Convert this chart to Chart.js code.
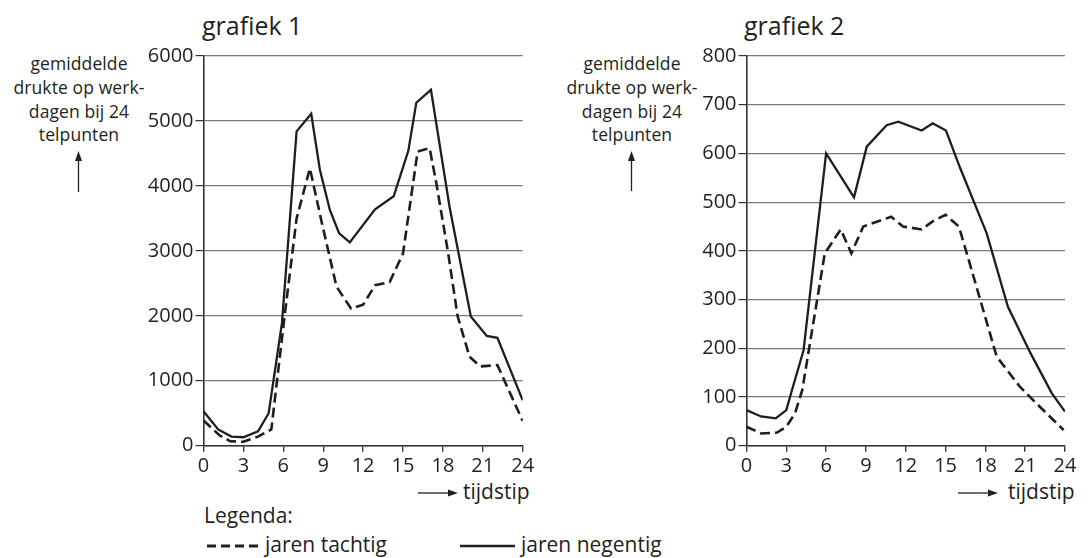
<!DOCTYPE html>
<html lang="nl">
<head>
<meta charset="UTF-8">
<title>grafiek 1 en 2</title>
<script src="https://cdn.jsdelivr.net/npm/chart.js"></script>
<style>
  body { margin: 0; background: #fff; font-family: "Open Sans", sans-serif; color: #231f20; }
  #page { position: relative; width: 1091px; height: 558px; overflow: hidden; }
  .abs { position: absolute; white-space: nowrap; }
  .titel { font-size: 25px; line-height: 25px; }
  .yas { font-size: 17.5px; line-height: 23.8px; text-align: center; width: 160px; letter-spacing: 0.1px; }
  .lbl { font-size: 21px; line-height: 21px; }
  canvas { position: absolute; }
</style>
</head>
<body>
<div id="page">
  <div class="abs titel" style="left:202px; top:13px;">grafiek 1</div>
  <div class="abs titel" style="left:744px; top:13px;">grafiek 2</div>

  <div class="abs yas" style="left:-1px; top:52px;">gemiddelde<br>drukte op werk-<br>dagen bij 24<br>telpunten</div>
  <div class="abs yas" style="left:552px; top:52px;">gemiddelde<br>drukte op werk-<br>dagen bij 24<br>telpunten</div>

  <svg class="abs" style="left:0; top:0;" width="1091" height="558">
    <g stroke="#231f20" fill="#231f20" stroke-width="1.3">
      <line x1="78.5" y1="192" x2="78.5" y2="158"/>
      <polygon points="78.5,151 75,161 82,161" stroke="none"/>
      <line x1="631.5" y1="191" x2="631.5" y2="158"/>
      <polygon points="631.5,151 628,161 635,161" stroke="none"/>
      <line x1="418" y1="493" x2="449" y2="493"/>
      <polygon points="458,493 448,489.5 448,496.5" stroke="none"/>
      <line x1="958" y1="493" x2="989" y2="493"/>
      <polygon points="998,493 988,489.5 988,496.5" stroke="none"/>
      <line x1="207" y1="546" x2="262" y2="546" stroke-width="3" stroke-dasharray="9,5"/>
      <line x1="460" y1="546" x2="515" y2="546" stroke-width="2.4"/>
    </g>
  </svg>

  <div class="abs lbl" style="left:463px; top:481px;">tijdstip</div>
  <div class="abs lbl" style="left:1008px; top:481px;">tijdstip</div>
  <div class="abs lbl" style="left:204px; top:505px;">Legenda:</div>
  <div class="abs lbl" style="left:265px; top:534px;">jaren tachtig</div>
  <div class="abs lbl" style="left:521px; top:534px;">jaren negentig</div>

  <canvas id="grafiek1" width="400" height="440" style="left:140px; top:40px;"></canvas>
  <canvas id="grafiek2" width="400" height="440" style="left:683px; top:40px;"></canvas>
</div>

<script>
  // grafiek 1: tijdstip (uur) en gemiddelde drukte
  const g1TachtigUur = [0, 1.2, 2, 3, 4.1, 5.1, 6.1, 7, 8, 8.9, 10, 11.1, 12, 12.9, 14, 15, 16.1, 17, 17.5, 18.4, 19.1, 20, 20.8, 22.1, 24];
  const g1TachtigDrukte = [390, 160, 70, 60, 140, 250, 2000, 3500, 4270, 3430, 2450, 2110, 2170, 2470, 2520, 2960, 4530, 4580, 4050, 2960, 2000, 1370, 1220, 1240, 380];
  const g1NegentigUur = [0, 1.1, 2.1, 3, 4.1, 4.9, 5.9, 7, 8.1, 8.75, 9.5, 10.2, 11, 12.9, 14.3, 15.4, 16, 17.1, 18.5, 20.1, 21.3, 22.1, 24];
  const g1NegentigDrukte = [530, 250, 140, 130, 220, 500, 1890, 4840, 5110, 4250, 3630, 3270, 3130, 3640, 3840, 4540, 5280, 5480, 3680, 1990, 1690, 1660, 700];

  // grafiek 2
  const g2TachtigUur = [0, 1.1, 2.3, 3, 3.65, 4.2, 5.9, 7.1, 7.9, 8.8, 10.9, 11.8, 13.2, 14, 15, 16, 16.6, 18.85, 20.6, 22.1, 23.9];
  const g2TachtigDrukte = [39, 25, 27, 39, 66, 114, 395, 444, 395, 450, 470, 450, 444, 460, 474, 450, 395, 183, 121, 80, 32];
  const g2NegentigUur = [0, 1.1, 2.2, 3, 3.5, 4.3, 6, 8.1, 9.06, 10.56, 11.44, 13.2, 14.03, 15.03, 16.1, 18.1, 19.7, 21.4, 23, 24];
  const g2NegentigDrukte = [73, 60, 56, 73, 121, 196, 600, 510, 614, 658, 665, 647, 662, 647, 570, 436, 285, 190, 108, 70];

  const assen = { xMin: 0, xMax: 24, xStap: 3 };

  function punten(uren, waarden) {
    return uren.map((u, i) => ({ x: u, y: waarden[i] }));
  }

  function maakGrafiek(id, tachtig, negentig, yMax, yStap, rechts) {
    const ctx = document.getElementById(id).getContext('2d');
    return new Chart(ctx, {
      type: 'line',
      data: {
        datasets: [
          {
            label: 'jaren tachtig',
            data: tachtig,
            borderColor: '#1e1e1e',
            borderWidth: 2.6,
            borderDash: [10, 5],
            pointRadius: 0,
            tension: 0,
            fill: false
          },
          {
            label: 'jaren negentig',
            data: negentig,
            borderColor: '#1e1e1e',
            borderWidth: 2.3,
            pointRadius: 0,
            tension: 0,
            fill: false
          }
        ]
      },
      options: {
        responsive: false,
        animation: false,
        devicePixelRatio: 1,
        layout: { padding: { top: 16, right: rechts, bottom: 0, left: 0 } },
        plugins: { legend: { display: false }, tooltip: { enabled: false } },
        scales: {
          x: {
            type: 'linear',
            min: assen.xMin,
            max: assen.xMax,
            afterFit: s => { s.height = 34.3; },
            ticks: {
              stepSize: assen.xStap,
              color: '#231f20',
              padding: 3,
              maxRotation: 0,
              callback: v => String(v),
              font: { family: 'Open Sans', size: 20 }
            },
            grid: { drawOnChartArea: false, tickLength: 6, tickColor: '#333', lineWidth: 1.4 },
            border: { color: '#333', width: 1.6 }
          },
          y: {
            min: 0,
            max: yMax,
            afterFit: s => { s.width = 63.5; },
            ticks: {
              stepSize: yStap,
              color: '#231f20',
              padding: 2,
              callback: v => String(v),
              font: { family: 'Open Sans', size: 20 }
            },
            grid: { color: '#7a7a7a', lineWidth: 1.2, tickLength: 8, tickColor: '#333' },
            border: { color: '#333', width: 1.6 }
          }
        }
      }
    });
  }

  maakGrafiek('grafiek1', punten(g1TachtigUur, g1TachtigDrukte), punten(g1NegentigUur, g1NegentigDrukte), 6000, 1000, 17.3);
  maakGrafiek('grafiek2', punten(g2TachtigUur, g2TachtigDrukte), punten(g2NegentigUur, g2NegentigDrukte), 800, 100, 18);
</script>
</body>
</html>
